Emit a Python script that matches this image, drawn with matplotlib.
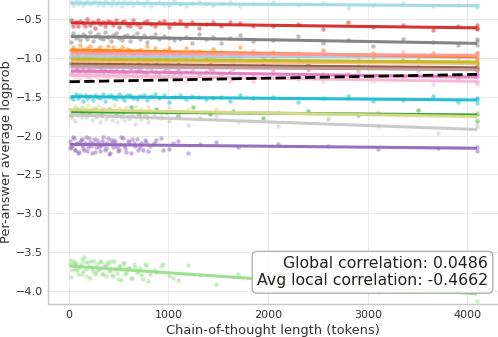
import numpy as np
import matplotlib
matplotlib.use("Agg")
import matplotlib.pyplot as plt

# ---------------- data ----------------
cot_len_long = [20, 45, 70, 95, 110, 140, 160, 185, 210, 240, 265, 290, 310, 340, 365, 390, 420, 445, 470, 500,
                530, 555, 585, 610, 640, 680, 715, 750, 790, 830, 870, 910, 960, 1010, 1060, 1120, 1180, 1240, 1310, 1380,
                1450, 1530, 1620, 1720, 1850, 2050, 2300, 2550, 2800, 3050, 3350, 3650, 3900, 4096, 4096, 4096]
cot_len_short = [15, 30, 50, 65, 85, 100, 120, 135, 155, 175, 190, 210, 230, 250, 270, 290, 310, 330, 350, 370,
                 390, 410, 430, 455, 480, 500, 525, 550, 575, 600, 630, 660, 690, 720, 760, 800, 860, 930, 1010, 1100,
                 1200, 1320, 1480, 1700, 2100, 2600, 3100, 3700, 4096, 4096]
cot_len_mid = [25, 80, 140, 200, 260, 330, 400, 470, 540, 620, 700, 790, 880, 980, 1100, 1250, 1420, 1650, 1950, 2400,
               2900, 3500, 4096, 4096]
cot_len_extra = [8, 25, 40, 58, 75, 92, 110, 128, 145, 165, 182, 200, 220, 240, 260, 280, 300, 320, 340, 360,
                 380, 400, 420, 442, 465, 490, 515, 540, 565, 590, 620, 650, 680, 710, 740, 780, 820, 880, 950, 1050]

logprob_light_cyan = [-0.28, -0.31, -0.26, -0.30, -0.27, -0.32, -0.29, -0.27, -0.30, -0.29, -0.26, -0.31, -0.28, -0.32,
                      -0.27, -0.29, -0.31, -0.26, -0.30, -0.28, -0.33, -0.27, -0.30, -0.28, -0.32, -0.28, -0.29, -0.31,
                      -0.27, -0.33, -0.29, -0.28, -0.31, -0.32, -0.27, -0.30, -0.33, -0.29, -0.28, -0.30, -0.32, -0.29,
                      -0.28, -0.33, -0.30, -0.28, -0.32, -0.29, -0.35, -0.31, -0.29, -0.33, -0.31, -0.32, -0.335, -0.325]
logprob_red = [-0.51, -0.58, -0.54, -0.59, -0.52, -0.55, -0.58, -0.50, -0.57, -0.53, -0.61, -0.51, -0.56, -0.53,
               -0.59, -0.52, -0.54, -0.57, -0.51, -0.60, -0.54, -0.52, -0.57, -0.59, -0.51, -0.56, -0.60, -0.53,
               -0.52, -0.56, -0.58, -0.54, -0.52, -0.60, -0.55, -0.52, -0.59, -0.54, -0.61, -0.56, -0.53, -0.58,
               -0.54, -0.55, -0.58, -0.58, -0.56, -0.62, -0.53, -0.60, -0.57, -0.64, -0.59, -0.57, -0.63, -0.61]
logprob_gray = [-0.79, -0.68, -0.74, -0.71, -0.77, -0.69, -0.72, -0.75, -0.67, -0.78, -0.71, -0.69, -0.74, -0.76,
                -0.67, -0.73, -0.78, -0.70, -0.68, -0.74, -0.77, -0.72, -0.70, -0.78, -0.72, -0.68, -0.76, -0.70,
                -0.79, -0.73, -0.69, -0.75, -0.71, -0.74, -0.77, -0.75, -0.73, -0.80, -0.69, -0.76, -0.73, -0.81,
                -0.74, -0.70, -0.78, -0.77, -0.72, -0.81, -0.77, -0.84, -0.75, -0.79, -0.83, -0.75, -0.83, -0.78]
logprob_orange = [-0.89, -0.86, -0.92, -0.95, -0.83, -0.90, -0.96, -0.87, -0.85, -0.91, -0.94, -0.88, -0.86, -0.95,
                  -0.89, -0.84, -0.93, -0.86, -0.97, -0.90, -0.86, -0.93, -0.88, -0.90, -0.93, -0.91, -0.89, -0.96,
                  -0.84, -0.93, -0.87, -0.98, -0.90, -0.87, -0.95, -0.93, -0.87, -0.97, -0.91, -0.98, -0.88, -0.93,
                  -0.96, -0.86, -0.95, -0.92, -1.02, -0.89, -0.96, -0.94, -1.02, -0.93, -0.96, -1.01, -0.93, -1.05]
logprob_light_red = [-0.97, -0.92, -0.91, -0.98, -0.93, -0.90, -0.96, -0.91, -0.99, -0.94, -0.90, -0.96, -0.92, -0.93,
                     -0.96, -0.94, -0.92, -0.98, -0.89, -0.95, -0.92, -0.99, -0.93, -0.91, -0.96, -0.95, -0.90, -0.97,
                     -0.93, -0.98, -0.91, -0.94, -0.97, -0.90, -0.96, -0.93, -1.00, -0.91, -0.96, -0.93, -0.98, -0.92,
                     -0.94, -0.97, -0.91, -1.00, -0.94, -0.92, -0.97, -0.99, -0.92, -0.96, -1.00, -0.94, -0.93, -0.97]
logprob_light_blue = [-0.97, -1.00, -0.98, -0.96, -0.99, -1.00, -0.96, -0.98, -0.99, -0.95, -0.99, -0.97, -1.00, -0.97,
                      -0.98, -0.96, -1.01, -0.98, -0.99, -0.97, -0.99, -0.98, -0.97, -1.00]
logprob_olive = [-1.00, -1.02, -1.03, -0.99, -1.02, -1.01, -1.04, -1.00, -1.02, -0.99, -1.04, -1.01, -1.03, -1.00,
                 -1.03, -1.02, -1.01, -1.04, -1.02, -1.05, -1.04, -1.02, -1.06, -1.07]
logprob_light_orange = [-1.06, -1.03, -1.04, -1.02, -1.07, -1.03, -1.05, -1.02, -1.05, -1.04, -1.03, -1.06, -1.03, -1.06,
                        -1.04, -1.02, -1.05, -1.07, -1.03, -1.06, -1.07, -1.04, -1.08, -1.06]
logprob_brown = [-1.06, -1.09, -1.10, -1.07, -1.08, -1.09, -1.06, -1.09, -1.08, -1.10, -1.07, -1.09, -1.07, -1.11,
                 -1.08, -1.10, -1.08, -1.10, -1.10, -1.09, -1.12, -1.11, -1.14, -1.12]
logprob_light_brown = [-1.08, -1.11, -1.10, -1.13, -1.09, -1.11, -1.08, -1.13, -1.10, -1.12, -1.09, -1.12, -1.11, -1.10,
                       -1.14, -1.11, -1.14, -1.12, -1.10, -1.14, -1.16, -1.13, -1.15, -1.17]
logprob_light_purple = [-1.10, -1.15, -1.11, -1.13, -1.10, -1.13, -1.12, -1.10, -1.14, -1.11, -1.14, -1.12, -1.09, -1.13,
                        -1.15, -1.10, -1.13, -1.14, -1.09, -1.14, -1.12, -1.16, -1.12, -1.15]
logprob_pink = [-1.21, -1.17, -1.14, -1.19, -1.17, -1.13, -1.20, -1.16, -1.21, -1.14, -1.17, -1.19, -1.13, -1.18,
                -1.15, -1.22, -1.14, -1.18, -1.16, -1.21, -1.16, -1.18, -1.20, -1.14, -1.22, -1.17, -1.15, -1.19,
                -1.21, -1.14, -1.18, -1.22, -1.16, -1.16, -1.19, -1.21, -1.18, -1.16, -1.22, -1.18, -1.15, -1.22,
                -1.18, -1.24, -1.20, -1.17, -1.22, -1.20, -1.21, -1.24, -1.23, -1.22, -1.27, -1.20, -1.25, -1.22]
logprob_light_pink = [-1.20, -1.22, -1.25, -1.19, -1.27, -1.22, -1.20, -1.24, -1.26, -1.18, -1.23, -1.27, -1.21, -1.19,
                      -1.23, -1.25, -1.21, -1.20, -1.26, -1.22, -1.20, -1.26, -1.21, -1.28, -1.23, -1.20, -1.25, -1.22,
                      -1.23, -1.25, -1.24, -1.22, -1.27, -1.20, -1.26, -1.22, -1.29, -1.24, -1.21, -1.27, -1.25, -1.22,
                      -1.29, -1.25, -1.30, -1.23, -1.27, -1.30, -1.23, -1.30, -1.27, -1.34, -1.26, -1.31, -1.29, -1.34]
logprob_cyan = [-1.50, -1.53, -1.46, -1.52, -1.48, -1.55, -1.47, -1.51, -1.49, -1.54, -1.48, -1.50, -1.52, -1.46,
                -1.55, -1.49, -1.47, -1.52, -1.53, -1.46, -1.50, -1.54, -1.48, -1.47, -1.51, -1.53, -1.49, -1.47,
                -1.54, -1.49, -1.46, -1.52, -1.48, -1.56, -1.50, -1.48, -1.53, -1.49, -1.50, -1.53, -1.51, -1.50,
                -1.55, -1.47, -1.52, -1.50, -1.57, -1.52, -1.49, -1.55, -1.54, -1.49, -1.57, -1.53, -1.58, -1.51]
logprob_light_olive = [-1.67, -1.73, -1.64, -1.62, -1.68, -1.71, -1.65, -1.63, -1.72, -1.66, -1.61, -1.70, -1.64, -1.73,
                       -1.66, -1.62, -1.69, -1.64, -1.66, -1.69, -1.67, -1.65, -1.72, -1.61, -1.69, -1.64, -1.74, -1.67,
                       -1.63, -1.70, -1.68, -1.62, -1.72, -1.66, -1.73, -1.63, -1.69, -1.72, -1.63, -1.71, -1.66, -1.77,
                       -1.65, -1.71, -1.69, -1.77, -1.70, -1.74, -1.78, -1.70]
logprob_green = [-1.73, -1.65, -1.72, -1.69, -1.66, -1.74, -1.66, -1.74, -1.69, -1.63, -1.72, -1.76, -1.65, -1.70,
                 -1.75, -1.63, -1.72, -1.68, -1.77, -1.68, -1.73, -1.67, -1.81, -1.72]
logprob_light_gray = [-1.67, -1.77, -1.70, -1.81, -1.73, -1.68, -1.76, -1.70, -1.72, -1.76, -1.74, -1.72, -1.80, -1.67,
                      -1.76, -1.71, -1.82, -1.74, -1.69, -1.78, -1.75, -1.69, -1.80, -1.74, -1.82, -1.71, -1.76, -1.80,
                      -1.68, -1.79, -1.73, -1.85, -1.71, -1.78, -1.74, -1.82, -1.73, -1.77, -1.81, -1.72, -1.86, -1.77,
                      -1.75, -1.83, -1.88, -1.78, -1.88, -1.96, -1.89, -1.86]
logprob_purple = [-2.16, -2.13, -2.03, -2.19, -2.10, -2.21, -2.05, -2.12, -2.18, -2.02, -2.15, -2.08, -2.23, -2.04,
                  -2.14, -2.09, -2.20, -2.07, -2.11, -2.16, -2.03, -2.22, -2.10, -2.05, -2.15, -2.19, -2.02, -2.12,
                  -2.21, -2.08, -2.04, -2.13, -2.18, -2.09, -2.05, -2.20, -2.10, -2.03, -2.17, -2.07, -2.23, -2.11,
                  -2.08, -2.15, -2.11, -2.13, -2.17, -2.16, -2.14, -2.20]
logprob_purple_extra = [-2.07, -2.14, -2.02, -2.19, -2.11, -2.22, -2.08, -2.04, -2.16, -2.10, -2.20, -2.03, -2.13, -2.09,
                        -2.21, -2.05, -2.15, -2.12, -2.02, -2.18, -2.09, -2.24, -2.05, -2.14, -2.08, -2.20, -2.11, -2.03,
                        -2.16, -2.07, -2.22, -2.10, -2.04, -2.15, -2.19, -2.08, -2.13, -2.05, -2.18, -2.10]
logprob_light_green = [-3.60, -3.73, -3.64, -3.66, -3.73, -3.69, -3.65, -3.78, -3.57, -3.72, -3.63, -3.83, -3.70, -3.62,
                       -3.76, -3.72, -3.61, -3.79, -3.68, -3.81, -3.63, -3.73, -3.80, -3.61, -3.77, -3.68, -3.86, -3.64,
                       -3.76, -3.71, -3.84, -3.69, -3.74, -3.80, -3.65, -3.87, -3.73, -3.68, -3.81, -3.86, -3.67, -3.80,
                       -3.91, -3.78, -3.77, -3.92, -4.02, -3.97, -3.96, -4.13]
logprob_light_green_extra = [-3.65, -3.82, -3.61, -3.72, -3.64, -3.78, -3.68, -3.59, -3.74, -3.63, -3.81, -3.68, -3.62,
                             -3.75, -3.79, -3.66, -3.72, -3.63, -3.78, -3.68, -3.65, -3.74, -3.61, -3.81, -3.72, -3.85,
                             -3.68, -3.64, -3.78, -3.70, -3.84, -3.65, -3.76, -3.71, -3.85, -3.67, -3.79, -3.76, -3.65,
                             -3.84]

# per-model linear fit: intercept (logprob at 0 tokens) and slope (per 1000 tokens)
series_names = ["light_blue", "orange", "light_orange", "green", "light_green", "red", "light_red", "purple",
                "light_purple", "brown", "light_brown", "pink", "light_pink", "gray", "light_gray", "olive",
                "light_olive", "cyan", "light_cyan"]
series_colors = ["#aec7e8", "#ff7f0e", "#ffbb78", "#2ca02c", "#98df8a", "#d62728", "#ff9896", "#9467bd",
                 "#c5b0d5", "#8c564b", "#c49c94", "#e377c2", "#f7b6d2", "#7f7f7f", "#c7c7c7", "#bcbd22",
                 "#dbdb8d", "#17becf", "#9edae5"]
fit_intercepts = [-0.98, -0.895, -1.04, -1.69, -3.68, -0.545, -0.935, -2.112, -1.117, -1.078, -1.103, -1.166,
                  -1.222, -0.72, -1.73, -1.012, -1.665, -1.497, -0.29]
fit_slopes_per_1k = [-0.0012, -0.022, -0.0073, -0.0105, -0.0879, -0.0159, -0.0073, -0.0122, -0.0056, -0.0115,
                     -0.0115, -0.0193, -0.019, -0.022, -0.0464, -0.0093, -0.022, -0.0105, -0.00854]
global_intercept = -1.305
global_slope_per_1k = 0.0232
global_corr = 0.0486
avg_local_corr = -0.4662

series_x = {
    "light_blue": cot_len_mid, "orange": cot_len_long, "light_orange": cot_len_mid, "green": cot_len_mid,
    "light_green": cot_len_short + cot_len_extra, "red": cot_len_long, "light_red": cot_len_long,
    "purple": cot_len_short + cot_len_extra, "light_purple": cot_len_mid, "brown": cot_len_mid,
    "light_brown": cot_len_mid, "pink": cot_len_long, "light_pink": cot_len_long, "gray": cot_len_long,
    "light_gray": cot_len_short, "olive": cot_len_mid, "light_olive": cot_len_short, "cyan": cot_len_long,
    "light_cyan": cot_len_long,
}
series_y = {
    "light_blue": logprob_light_blue, "orange": logprob_orange, "light_orange": logprob_light_orange,
    "green": logprob_green, "light_green": logprob_light_green + logprob_light_green_extra, "red": logprob_red,
    "light_red": logprob_light_red, "purple": logprob_purple + logprob_purple_extra,
    "light_purple": logprob_light_purple, "brown": logprob_brown, "light_brown": logprob_light_brown,
    "pink": logprob_pink, "light_pink": logprob_light_pink, "gray": logprob_gray, "light_gray": logprob_light_gray,
    "olive": logprob_olive, "light_olive": logprob_light_olive, "cyan": logprob_cyan, "light_cyan": logprob_light_cyan,
}

# ---------------- figure ----------------
plt.rcParams["font.family"] = ["DejaVu Sans"]
fig = plt.figure(figsize=(4.98, 3.37), dpi=100)
ax = fig.add_axes([0.097, 0.098, 0.902, 0.902])

all_x = []
for name, color in zip(series_names, series_colors):
    xs = np.asarray(series_x[name], dtype=float)
    ys = np.asarray(series_y[name], dtype=float)
    all_x.extend(xs.tolist())
    ax.scatter(xs, ys, s=10, color=color, alpha=0.5, linewidths=0, zorder=2)

for name, color, b0, b1 in zip(series_names, series_colors, fit_intercepts, fit_slopes_per_1k):
    xs = np.asarray(series_x[name], dtype=float)
    xl = np.array([xs.min(), xs.max()])
    ax.plot(xl, np.polyval([b1 / 1000.0, b0], xl), color=color, lw=2.2, alpha=0.95,
            solid_capstyle="butt", zorder=3)

xg = np.array([min(all_x), max(all_x)])
ax.plot(xg, np.polyval([global_slope_per_1k / 1000.0, global_intercept], xg), color="black", lw=2.0,
        linestyle="--", zorder=4)

ax.set_xlim(-205, 4301)
ax.set_ylim(-4.17, -0.251)
ax.set_xticks([0, 1000, 2000, 3000, 4000])
ax.set_yticks([-4.0, -3.5, -3.0, -2.5, -2.0, -1.5, -1.0, -0.5])
ax.grid(True, color="#ebebeb", lw=0.8, zorder=0)
ax.set_axisbelow(True)
for s in ["top", "right"]:
    ax.spines[s].set_visible(False)
for s in ["left", "bottom"]:
    ax.spines[s].set_color("#c8c8c8")
    ax.spines[s].set_linewidth(1.0)
ax.tick_params(length=0, labelsize=8, colors="#333333", pad=4)
ax.set_xlabel("Chain-of-thought length (tokens)", fontsize=9.4, color="#333333", labelpad=3)
ax.set_ylabel("Per-answer average logprob", fontsize=9.4, color="#333333", labelpad=2)

ax.text(0.979, 0.051,
        f"Global correlation: {global_corr:.4f}\nAvg local correlation: {avg_local_corr:.4f}",
        transform=ax.transAxes, ha="right", va="bottom", multialignment="right", fontsize=11.3,
        color="#222222", zorder=6,
        bbox=dict(boxstyle="round,pad=0.3", facecolor="white", edgecolor="#aaaaaa", alpha=0.9))

fig.savefig("out.png", dpi=100)
